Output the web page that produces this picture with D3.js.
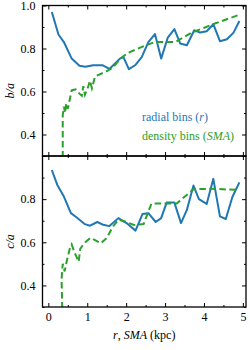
<!DOCTYPE html>
<html lang="en">
<head>
  <meta charset="UTF-8">
  <title>Axis ratios</title>
  <script src="https://d3js.org/d3.v7.min.js"></script>
  <style>
    html, body { margin: 0; padding: 0; background: #fff; overflow: hidden; }
    svg, svg text { font-family: 'Liberation Serif', 'DejaVu Serif', serif; }
  </style>
</head>
<body>
<div id="chart"></div>

<script>
  // radial bins (r) - top panel b/a
  const radR_ba = [0.09, 0.26, 0.40, 0.60, 0.80, 0.95, 1.15, 1.40, 1.57, 1.84, 1.93, 2.07, 2.23, 2.40, 2.57, 2.74, 2.90, 3.07, 3.24, 3.39, 3.56, 3.75, 3.90, 4.07, 4.24, 4.41, 4.59, 4.76, 4.91];
  const radBA   = [0.97, 0.865, 0.83, 0.753, 0.72, 0.715, 0.722, 0.722, 0.705, 0.753, 0.76, 0.704, 0.722, 0.76, 0.83, 0.867, 0.753, 0.851, 0.89, 0.823, 0.815, 0.885, 0.874, 0.88, 0.913, 0.834, 0.843, 0.874, 0.928];

  // density bins (SMA) - top panel b/a
  const smaR_ba = [0.37, 0.37, 0.40, 0.43, 0.46, 0.50, 0.60, 0.70, 0.80, 0.86, 0.90, 0.94, 1.02, 1.07, 1.12, 1.20, 1.45, 1.65, 1.85, 2.05, 2.44, 2.74, 3.26, 3.70, 4.28, 4.88];
  const smaBA   = [0.20, 0.49, 0.53, 0.50, 0.545, 0.52, 0.605, 0.61, 0.59, 0.58, 0.625, 0.585, 0.62, 0.65, 0.615, 0.67, 0.69, 0.71, 0.753, 0.78, 0.81, 0.83, 0.83, 0.875, 0.916, 0.955];

  // radial bins (r) - bottom panel c/a
  const radR_ca = [0.09, 0.23, 0.40, 0.58, 0.73, 0.94, 1.07, 1.26, 1.41, 1.57, 1.80, 2.01, 2.24, 2.42, 2.57, 2.76, 2.90, 3.04, 3.24, 3.41, 3.56, 3.73, 3.87, 4.07, 4.24, 4.41, 4.56, 4.73, 4.91];
  const radCA   = [0.935, 0.866, 0.812, 0.735, 0.715, 0.684, 0.677, 0.694, 0.681, 0.675, 0.712, 0.689, 0.654, 0.731, 0.735, 0.694, 0.712, 0.784, 0.784, 0.689, 0.75, 0.863, 0.80, 0.778, 0.894, 0.72, 0.708, 0.81, 0.878];

  // density bins (SMA) - bottom panel c/a
  const smaR_ca = [0.37, 0.34, 0.37, 0.42, 0.47, 0.55, 0.60, 0.68, 0.78, 0.82, 0.90, 0.98, 1.08, 1.20, 1.35, 1.50, 1.65, 1.80, 2.00, 2.20, 2.45, 2.65, 3.00, 3.30, 3.73, 4.20, 4.85];
  const smaCA   = [0.20, 0.43, 0.50, 0.465, 0.51, 0.57, 0.59, 0.55, 0.51, 0.57, 0.59, 0.605, 0.62, 0.61, 0.595, 0.62, 0.67, 0.705, 0.695, 0.68, 0.685, 0.78, 0.78, 0.78, 0.846, 0.848, 0.843];

  const xTicks = [0, 1, 2, 3, 4, 5];
  const yTicks = [0.4, 0.6, 0.8, 1.0];
  const yLabels = ["b/a", "c/a"];

  const width = 250, height = 350;
  const left = 42.5, right = 246;
  const blue = "#1f77b4", green = "#2ca02c";
  const font = "'Liberation Serif', 'DejaVu Serif', serif";

  const svg = d3.select("#chart").append("svg")
    .attr("width", width)
    .attr("height", height);

  const x = d3.scaleLinear().domain([-0.15, 5.08]).range([left, right]);

  const panels = [
    { top: 5.5, bottom: 156, r1: radR_ba, v1: radBA, r2: smaR_ba, v2: smaBA, label: yLabels[0], legend: true },
    { top: 156, bottom: 307, r1: radR_ca, v1: radCA, r2: smaR_ca, v2: smaCA, label: yLabels[1], legend: false }
  ];

  panels.forEach((p, i) => {
    const y = d3.scaleLinear().domain([0.3, 1.0]).range([p.bottom, p.top]);
    const g = svg.append("g");

    g.append("clipPath").attr("id", "clip" + i)
      .append("rect")
      .attr("x", left).attr("y", p.top)
      .attr("width", right - left).attr("height", p.bottom - p.top);

    const line = (rs, vs) => d3.line()
      .x(d => x(rs[d]))
      .y(d => y(vs[d]))(d3.range(rs.length));

    const lines = g.append("g").attr("clip-path", `url(#clip${i})`);
    lines.append("path")
      .attr("d", line(p.r1, p.v1))
      .attr("fill", "none").attr("stroke", blue)
      .attr("stroke-width", 2).attr("stroke-linejoin", "round");
    lines.append("path")
      .attr("d", line(p.r2, p.v2))
      .attr("fill", "none").attr("stroke", green)
      .attr("stroke-width", 2).attr("stroke-dasharray", "6.5,3.5");

    // ticks, inward on all four sides
    const xMinor = [0.5, 1.5, 2.5, 3.5, 4.5];
    const yMinor = [0.3, 0.5, 0.7, 0.9];

    const addAxis = (axis, tr) => {
      const a = g.append("g").attr("transform", tr).call(axis);
      a.select(".domain").remove();
      a.selectAll("line").attr("stroke", "#000").attr("stroke-width", 1);
      return a;
    };

    addAxis(d3.axisBottom(x).tickValues(xTicks).tickSize(-4).tickPadding(5)
      .tickFormat(i === 1 ? d3.format("d") : ""), `translate(0,${p.bottom})`);
    addAxis(d3.axisBottom(x).tickValues(xMinor).tickSize(-2).tickFormat(""), `translate(0,${p.bottom})`);
    addAxis(d3.axisTop(x).tickValues(xTicks).tickSize(-4).tickFormat(""), `translate(0,${p.top})`);
    addAxis(d3.axisTop(x).tickValues(xMinor).tickSize(-2).tickFormat(""), `translate(0,${p.top})`);

    const yl = addAxis(d3.axisLeft(y).tickValues(yTicks).tickSize(-4).tickPadding(7)
      .tickFormat(d3.format(".1f")), `translate(${left},0)`);
    addAxis(d3.axisLeft(y).tickValues(yMinor).tickSize(-2).tickFormat(""), `translate(${left},0)`);
    addAxis(d3.axisRight(y).tickValues(yTicks).tickSize(-4).tickFormat(""), `translate(${right},0)`);
    addAxis(d3.axisRight(y).tickValues(yMinor).tickSize(-2).tickFormat(""), `translate(${right},0)`);

    // the lower panel's 1.0 would sit on the shared edge
    if (i === 1) yl.selectAll(".tick text").filter(d => d === 1.0).remove();

    g.selectAll(".tick text")
      .attr("font-family", font)
      .attr("font-size", 12).attr("fill", "#000");

    g.append("rect")
      .attr("x", left).attr("y", p.top)
      .attr("width", right - left).attr("height", p.bottom - p.top)
      .attr("fill", "none").attr("stroke", "#000").attr("stroke-width", 1.3);

    // y label
    g.append("text")
      .attr("transform", `translate(13.5,${(p.top + p.bottom) / 2 + 10}) rotate(-90)`)
      .attr("text-anchor", "middle")
      .attr("font-family", font)
      .attr("font-size", 12).attr("font-style", "italic")
      .text(p.label);

    if (p.legend) {
      const t1 = g.append("text").attr("x", 142).attr("y", 121)
        .attr("font-family", font)
        .attr("font-size", 12).attr("fill", blue);
      t1.append("tspan").text("radial bins (");
      t1.append("tspan").attr("font-style", "italic").text("r");
      t1.append("tspan").text(")");
      const t2 = g.append("text").attr("x", 142).attr("y", 140)
        .attr("font-family", font)
        .attr("font-size", 12).attr("fill", green);
      t2.append("tspan").text("density bins (");
      t2.append("tspan").attr("font-style", "italic").text("SMA");
      t2.append("tspan").text(")");
    }
  });

  // x label
  const xl = svg.append("text")
    .attr("x", (left + right) / 2).attr("y", 339)
    .attr("text-anchor", "middle")
    .attr("font-family", font).attr("font-size", 12);
  xl.append("tspan").attr("font-style", "italic").text("r");
  xl.append("tspan").text(", ");
  xl.append("tspan").attr("font-style", "italic").text("SMA");
  xl.append("tspan").text(" (kpc)");
</script>
</body>
</html>
